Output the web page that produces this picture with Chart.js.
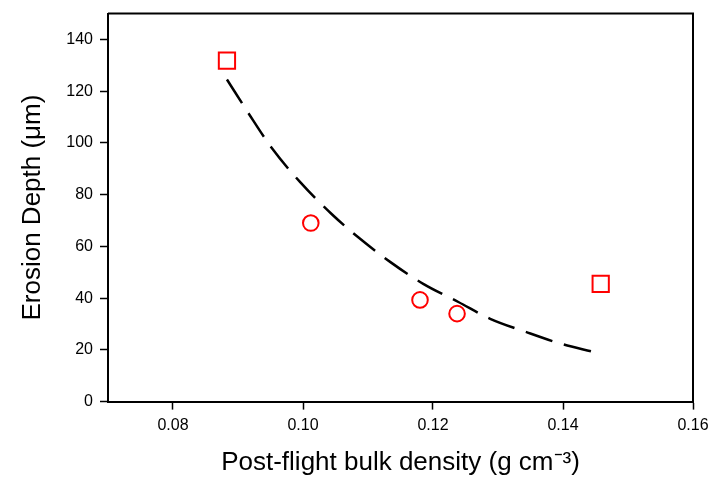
<!DOCTYPE html>
<html>
<head>
<meta charset="utf-8">
<title>Erosion depth vs post-flight bulk density</title>
<script src="https://cdn.jsdelivr.net/npm/chart.js@4/dist/chart.umd.min.js"></script>
<style>
    body { margin: 0; background: #fff; }
    #wrap { width: 717px; height: 489px; }
</style>
</head>
<body>
<div id="wrap"><canvas id="scatterChart" width="717" height="489"></canvas></div>
<script>
// Samples plotted as squares
const squareDensity = [0.0883, 0.1458];
const squareDepth = [131.8, 45.5];

// Samples plotted as circles
const circleDensity = [0.1012, 0.1180, 0.1237];
const circleDepth = [69.0, 39.3, 34.0];

// Dashed fit curve
const fitDensity = [0.0883, 0.0916, 0.0952, 0.0995, 0.1044, 0.1085, 0.1134, 0.1185, 0.1239, 0.1288, 0.1342, 0.1395, 0.1447];
const fitDepth = [124.5, 111.5, 98.0, 85.0, 72.5, 63.5, 54.0, 45.5, 38.5, 32.0, 27.0, 22.5, 19.2];

// Tick labels
const xTicks = [0.08, 0.10, 0.12, 0.14, 0.16];
const yTicks = [0, 20, 40, 60, 80, 100, 120, 140];

function toPoints(xs, ys) {
    return xs.map((x, i) => ({ x: x, y: ys[i] }));
}

// Draw top and right edges of the plot frame
const frameBox = {
    id: 'frameBox',
    afterDraw(chart) {
        const a = chart.chartArea;
        const ctx = chart.ctx;
        ctx.save();
        ctx.strokeStyle = '#000';
        ctx.lineWidth = 2;
        ctx.beginPath();
        ctx.moveTo(a.left, a.top);
        ctx.lineTo(a.right, a.top);
        ctx.lineTo(a.right, a.bottom);
        ctx.stroke();
        ctx.restore();
    }
};

const ctx = document.getElementById('scatterChart');

new Chart(ctx, {
    type: 'scatter',
    data: {
        datasets: [
            {
                label: 'Fit',
                data: toPoints(fitDensity, fitDepth),
                showLine: true,
                borderColor: '#000',
                borderWidth: 2.5,
                borderDash: [28, 12],
                pointRadius: 0,
                cubicInterpolationMode: 'monotone',
                fill: false,
                order: 3
            },
            {
                label: 'Squares',
                data: toPoints(squareDensity, squareDepth),
                pointStyle: 'rect',
                pointRadius: 11.5,
                pointBorderWidth: 2,
                pointBorderColor: '#ff0000',
                pointBackgroundColor: '#ffffff',
                order: 1
            },
            {
                label: 'Circles',
                data: toPoints(circleDensity, circleDepth),
                pointStyle: 'circle',
                pointRadius: 7.8,
                pointBorderWidth: 2,
                pointBorderColor: '#ff0000',
                pointBackgroundColor: '#ffffff',
                order: 2
            }
        ]
    },
    options: {
        responsive: false,
        animation: false,
        layout: {
            padding: { top: 10, right: 24, left: 0, bottom: 0 }
        },
        plugins: {
            legend: { display: false },
            tooltip: { enabled: false }
        },
        scales: {
            x: {
                type: 'linear',
                min: 0.07,
                max: 0.16,
                afterBuildTicks: scale => { scale.ticks = xTicks.map(v => ({ value: v })); },
                afterFit: scale => {
                    scale.height = 87.4;
                    scale.paddingLeft = 0;
                    scale.paddingRight = 0;
                },
                grid: {
                    drawOnChartArea: false,
                    drawTicks: true,
                    tickLength: 8,
                    tickWidth: 1.5,
                    tickColor: '#000'
                },
                border: { display: true, color: '#000', width: 2 },
                ticks: {
                    color: '#000',
                    padding: 6,
                    font: { family: 'Liberation Sans', size: 16 },
                    callback: v => v.toFixed(2)
                },
                title: {
                    display: true,
                    text: 'Post-flight bulk density (g cm⁻³)',
                    color: '#000',
                    font: { family: 'Liberation Sans', size: 26 },
                    padding: { top: 0, bottom: 11 }
                }
            },
            y: {
                type: 'linear',
                min: 0,
                max: 150,
                afterBuildTicks: scale => { scale.ticks = yTicks.map(v => ({ value: v })); },
                afterFit: scale => {
                    scale.width = 108;
                    scale.paddingTop = 0;
                    scale.paddingBottom = 0;
                },
                grid: {
                    drawOnChartArea: false,
                    drawTicks: true,
                    tickLength: 8,
                    tickWidth: 1.5,
                    tickColor: '#000'
                },
                border: { display: true, color: '#000', width: 2 },
                ticks: {
                    color: '#000',
                    padding: 7,
                    font: { family: 'Liberation Sans', size: 16 }
                },
                title: {
                    display: true,
                    text: 'Erosion Depth (μm)',
                    color: '#000',
                    font: { family: 'Liberation Sans', size: 26 },
                    padding: { top: 17, bottom: 0 }
                }
            }
        }
    },
    plugins: [frameBox]
});
</script>
</body>
</html>
